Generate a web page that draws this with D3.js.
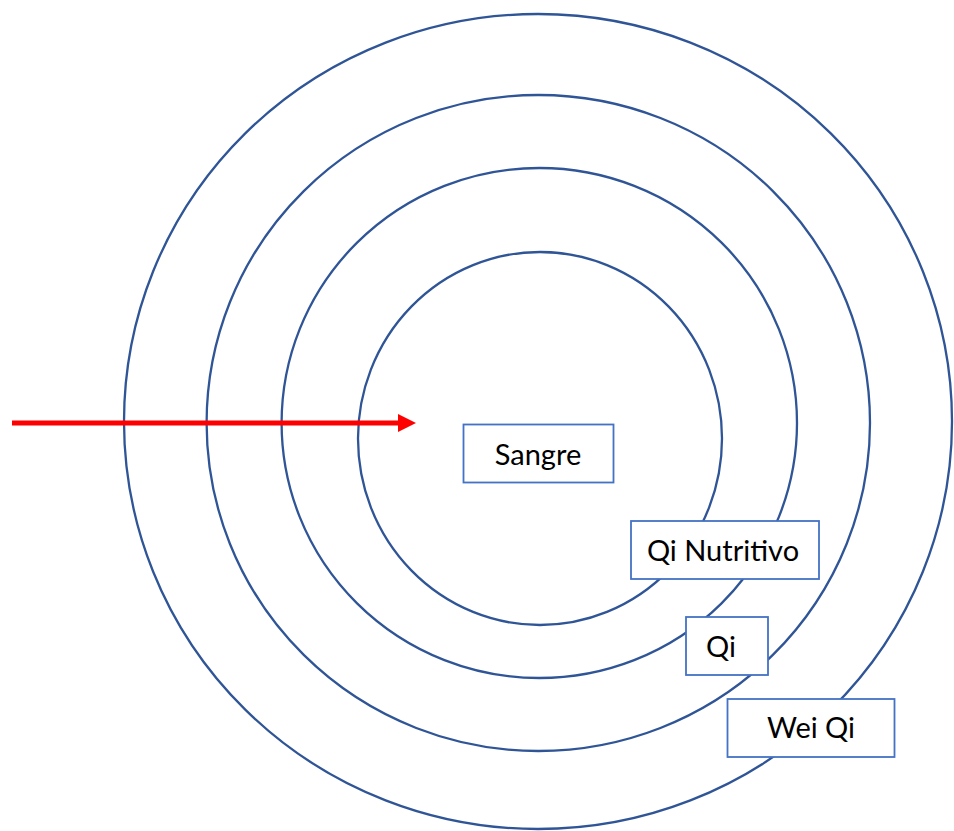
<!DOCTYPE html>
<html>
<head>
<meta charset="utf-8">
<script src="https://cdn.jsdelivr.net/npm/d3@7"></script>
<style>
  body { margin: 0; background: #fff; }
</style>
</head>
<body>
<div id="chart"></div>
<script>
// layers, from the inside out
var labels = ["Sangre", "Qi Nutritivo", "Qi", "Wei Qi"];

// ring geometry (centre and radii)
var rings = [
  {cx: 540, cy: 438.5, rx: 182, ry: 186.5},
  {cx: 539.3, cy: 423, rx: 257.7, ry: 255},
  {cx: 538.3, cy: 423, rx: 331.7, ry: 328},
  {cx: 538, cy: 421.5, rx: 414, ry: 407.5}
];

// label boxes
var boxes = [
  {x: 463.5, y: 424.5, w: 150, h: 58, tx: 538, ty: 465},
  {x: 631, y: 521, w: 188, h: 58, tx: 723, ty: 561},
  {x: 686, y: 617, w: 82, h: 58, tx: 721, ty: 657},
  {x: 727.5, y: 699, w: 167, h: 58, tx: 811, ty: 738}
];

var width = 954;
var height = 831;

var svg = d3.select("#chart")
  .append("svg")
  .attr("width", width)
  .attr("height", height);

svg.append("defs")
  .append("marker")
  .attr("id", "head")
  .attr("viewBox", "0 0 10 10")
  .attr("refX", 0)
  .attr("refY", 5)
  .attr("markerUnits", "userSpaceOnUse")
  .attr("markerWidth", 18)
  .attr("markerHeight", 18)
  .attr("orient", "auto")
  .append("path")
  .attr("d", "M0,0L10,5L0,10Z")
  .attr("fill", "#ff0000");

svg.selectAll("ellipse")
  .data(rings)
  .enter()
  .append("ellipse")
  .attr("cx", function(d) { return d.cx; })
  .attr("cy", function(d) { return d.cy; })
  .attr("rx", function(d) { return d.rx; })
  .attr("ry", function(d) { return d.ry; })
  .attr("fill", "none")
  .attr("stroke", "#2f5597")
  .attr("stroke-width", 2.3);

// red arrow into the centre
svg.append("line")
  .attr("x1", 12)
  .attr("y1", 423)
  .attr("x2", 398)
  .attr("y2", 423)
  .attr("stroke", "#ff0000")
  .attr("stroke-width", 5)
  .attr("marker-end", "url(#head)");

var g = svg.selectAll("g.label")
  .data(labels)
  .enter()
  .append("g")
  .attr("class", "label");

g.append("rect")
  .attr("x", function(d, i) { return boxes[i].x; })
  .attr("y", function(d, i) { return boxes[i].y; })
  .attr("width", function(d, i) { return boxes[i].w; })
  .attr("height", function(d, i) { return boxes[i].h; })
  .attr("fill", "#fff")
  .attr("stroke", "#4472c4")
  .attr("stroke-width", 1.8);

g.append("text")
  .attr("x", function(d, i) { return boxes[i].tx; })
  .attr("y", function(d, i) { return boxes[i].ty; })
  .attr("text-anchor", "middle")
  .style("font-family", "Lato, 'Open Sans', sans-serif")
  .style("font-size", "29px")
  .style("fill", "#000")
  .text(function(d) { return d; });
</script>
</body>
</html>
